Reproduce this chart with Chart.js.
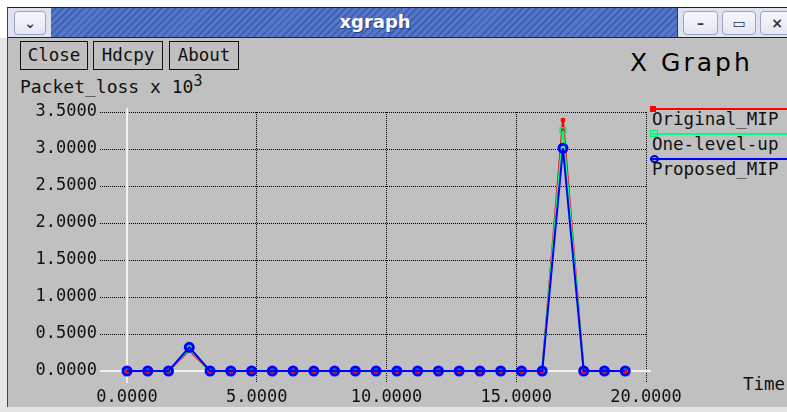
<!DOCTYPE html>
<html>
<head>
<meta charset="utf-8">
<script src="https://cdn.jsdelivr.net/npm/chart.js@4.4.0/dist/chart.umd.min.js"></script>
<style>
  body { margin: 0; width: 787px; height: 412px; overflow: hidden; background: #fff; position: relative; font-family: 'DejaVu Sans Mono', monospace; }
  .abs { position: absolute; }
  #win { left: 7px; top: 7px; width: 790px; height: 400px; background: #c0c0c0; border-left: 1px solid #444; border-top: 1px solid #222; }
  #leftFrame { left: 0; top: 38px; width: 7px; height: 374px; background: #e6e6e6; }
  #bottomFrame { left: 0; top: 407px; width: 787px; height: 5px; background: #e6e6e6; }
  #titlebar { left: 8px; top: 8px; width: 779px; height: 29px; border-bottom: 1px solid #223;
    background: repeating-linear-gradient(135deg, #5577c8 0px, #5577c8 3px, #3f60b4 3px, #3f60b4 5px); }
  #tbLeft { left: 8px; top: 8px; width: 43px; height: 29px; background: #dde2ee; }
  #tbRight { left: 677px; top: 8px; width: 110px; height: 29px; background: #dde2ee; border-left: 1px solid #334; }
  .wbtn { top: 11px; height: 22px; background: linear-gradient(#f7f8fc, #e3e7f2); border: 1px solid #9aa3bd; border-radius: 4px; color: #334; font: bold 14px 'DejaVu Sans', sans-serif; text-align: center; line-height: 22px; }
  #wtitle { left: 300px; top: 10px; width: 150px; text-align: center; color: #fff; font: bold 18px 'DejaVu Sans', sans-serif; line-height: 24px; text-shadow: 1px 1px 1px #223a80; }
  .btn { top: 41px; height: 27px; border: 1px solid #111; font-size: 17.5px; line-height: 27px; text-align: center; color: #111; box-sizing: content-box; }
  #xgtitle { left: 630px; top: 49px; font: 25px 'DejaVu Sans', sans-serif; letter-spacing: 3px; color: #000; line-height: 28px; }
  #ylabel { left: 20px; top: 78px; font-size: 18px; line-height: 18px; color: #111; white-space: nowrap; }
  #ylabel sup { font-size: 15px; position: relative; top: -2px; vertical-align: top; line-height: 10px; }
  #xlabel { left: 743px; top: 376px; font-size: 17.5px; line-height: 17px; color: #111; }
  .leg { left: 652px; font-size: 17.5px; line-height: 17px; color: #111; white-space: nowrap; }
  .legline { left: 650px; width: 140px; height: 2px; }
  canvas { position: absolute; left: 0; top: 0; }
</style>
</head>
<body>
<div id="win" class="abs"></div>
<div id="leftFrame" class="abs"></div>
<div id="bottomFrame" class="abs"></div>
<div id="titlebar" class="abs"></div>
<div id="tbLeft" class="abs"></div>
<div class="abs wbtn" style="left:14px;width:30px;">&#8964;</div>
<div id="tbRight" class="abs"></div>
<div class="abs wbtn" style="left:683px;width:33px;">&#8211;</div>
<div class="abs wbtn" style="left:722px;width:32px;">&#9645;</div>
<div class="abs wbtn" style="left:760px;width:32px;">&#215;</div>
<div id="wtitle" class="abs">xgraph</div>

<div class="abs btn" style="left:20px;width:66px;">Close</div>
<div class="abs btn" style="left:93px;width:68px;">Hdcpy</div>
<div class="abs btn" style="left:169px;width:68px;">About</div>
<div id="xgtitle" class="abs">X Graph</div>
<div id="ylabel" class="abs">Packet_loss x 10<sup>3</sup></div>
<div id="xlabel" class="abs">Time</div>

<div class="abs legline" style="top:108px;background:#ff0000;"></div>
<div class="abs" style="left:650px;top:106px;width:6px;height:6px;background:#ff0000;"></div>
<div class="abs leg" style="top:111px;">Original_MIP</div>
<div class="abs legline" style="top:133px;background:#00ff7f;"></div>
<div class="abs" style="left:650px;top:130px;width:6px;height:5px;border:1px solid #00ee77;"></div>
<div class="abs leg" style="top:136px;">One-level-up</div>
<div class="abs legline" style="top:158px;background:#0000ff;"></div>
<div class="abs" style="left:650px;top:155px;width:5px;height:4px;border:2px solid #0000ff;border-radius:50%;"></div>
<div class="abs leg" style="top:161px;">Proposed_MIP</div>

<canvas id="chart" width="787" height="412"></canvas>

<script>
// time values (x)
const timeVals = [0, 0.8, 1.6, 2.4, 3.2, 4.0, 4.8, 5.6, 6.4, 7.2, 8.0, 8.8, 9.6, 10.4, 11.2, 12.0, 12.8, 13.6, 14.4, 15.2, 16.0, 16.8, 17.6, 18.4, 19.2];
// packet loss (x 10^3)
const originalMip = [0, 0, 0, 0.28, 0, 0, 0, 0, 0, 0, 0, 0, 0, 0, 0, 0, 0, 0, 0, 0, 0, 3.39, 0, 0, 0];
const oneLevelUp  = [0, 0, 0, 0.30, 0, 0, 0, 0, 0, 0, 0, 0, 0, 0, 0, 0, 0, 0, 0, 0, 0, 3.25, 0, 0, 0];
const proposedMip = [0, 0, 0, 0.32, 0, 0, 0, 0, 0, 0, 0, 0, 0, 0, 0, 0, 0, 0, 0, 0, 0, 3.01, 0, 0, 0];
// tick labels
const xTicks = [0, 5, 10, 15, 20];
const yTicks = [0, 0.5, 1.0, 1.5, 2.0, 2.5, 3.0, 3.5];

const toPts = arr => arr.map((v, i) => ({ x: timeVals[i], y: v }));
const gridColor = c => (c.tick && c.tick.value === 0) ? 'rgba(0,0,0,0)' : '#000';
const tickFont = { family: 'DejaVu Sans Mono', size: 17 };

// white zero axes like xgraph
const zeroAxes = {
  id: 'zeroAxes',
  beforeDatasetsDraw(chart) {
    const { ctx, chartArea, scales } = chart;
    const x0 = scales.x.getPixelForValue(0);
    const y0 = scales.y.getPixelForValue(0);
    ctx.save();
    ctx.strokeStyle = '#f2f2f2';
    ctx.lineWidth = 2;
    ctx.beginPath();
    ctx.moveTo(x0, chartArea.top - 4);
    ctx.lineTo(x0, y0 + 12);
    ctx.moveTo(x0 - 27, y0);
    ctx.lineTo(chartArea.right + 5, y0);
    ctx.stroke();
    ctx.restore();
  }
};

new Chart(document.getElementById('chart').getContext('2d'), {
  type: 'scatter',
  data: {
    datasets: [
      { label: 'Original_MIP', data: toPts(originalMip), showLine: true, borderColor: '#ff0000', borderWidth: 2,
        pointStyle: 'rect', pointRadius: 2.5, pointBackgroundColor: '#ff0000', pointBorderColor: '#ff0000', pointBorderWidth: 1, order: 2, clip: false },
      { label: 'One-level-up', data: toPts(oneLevelUp), showLine: true, borderColor: '#00ff7f', borderWidth: 2,
        pointStyle: 'rect', pointRadius: 4, pointBackgroundColor: 'rgba(0,0,0,0)', pointBorderColor: '#00ee77', pointBorderWidth: 1.5, order: 1, clip: false },
      { label: 'Proposed_MIP', data: toPts(proposedMip), showLine: true, borderColor: '#0000ff', borderWidth: 2,
        pointStyle: 'circle', pointRadius: 4, pointBackgroundColor: 'rgba(0,0,0,0)', pointBorderColor: '#0000ff', pointBorderWidth: 3, order: 0, clip: false }
    ]
  },
  options: {
    responsive: false,
    animation: false,
    devicePixelRatio: 1,
    layout: { padding: { top: 112, right: 141, left: 0, bottom: 0 } },
    plugins: { legend: { display: false }, tooltip: { enabled: false } },
    elements: { line: { tension: 0 } },
    scales: {
      x: {
        type: 'linear', min: 0, max: 20,
        afterBuildTicks: s => { s.ticks = xTicks.map(v => ({ value: v })); },
        afterFit: s => { s.height = 41; },
        grid: { color: gridColor, lineWidth: 1, tickLength: 12, tickBorderDash: [1, 1] },
        border: { display: false, dash: [1, 1] },
        ticks: { color: '#111', font: tickFont, padding: 4, maxRotation: 0, autoSkip: false, callback: v => Number(v).toFixed(4) }
      },
      y: {
        type: 'linear', min: 0, max: 3.5,
        afterBuildTicks: s => { s.ticks = yTicks.map(v => ({ value: v })); },
        afterFit: s => { s.width = 127; },
        grid: { color: gridColor, lineWidth: 1, tickLength: 27, tickBorderDash: [1, 1] },
        border: { display: false, dash: [1, 1] },
        ticks: { color: '#111', font: tickFont, padding: 3, autoSkip: false, callback: v => Number(v).toFixed(4) }
      }
    }
  },
  plugins: [zeroAxes]
});
</script>
</body>
</html>
